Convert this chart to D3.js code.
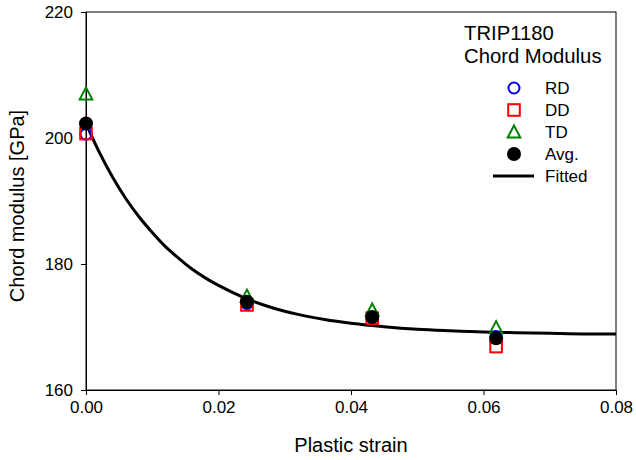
<!DOCTYPE html>
<html><head><meta charset="utf-8">
<script src="https://cdn.jsdelivr.net/npm/d3@7"></script>
<style>body{margin:0;background:#fff}svg{display:block}text{font-family:"Liberation Sans",Arial,sans-serif;fill:#000}</style>
</head><body><svg id="c" width="636" height="460"></svg>
<script>
const strain = [0, 0.0243, 0.0432, 0.0619];
const rd  = [200.6, 173.7, 171.5, 168.5];
const dd  = [200.7, 173.5, 171.4, 166.9];
const td  = [207.0, 174.9, 172.7, 169.9];
const avg = [202.3, 174.0, 171.6, 168.2];
const fitX = [0, 0.002, 0.004, 0.006, 0.008, 0.010, 0.012, 0.014, 0.016, 0.018, 0.020, 0.024, 0.028, 0.032, 0.036, 0.040, 0.045, 0.050, 0.055, 0.060, 0.065, 0.070, 0.075, 0.080];
const fitY = [202.3, 197.75, 193.8, 190.4, 187.5, 185.0, 182.75, 180.9, 179.2, 177.8, 176.6, 174.6, 173.1, 172.0, 171.2, 170.6, 170.05, 169.65, 169.4, 169.2, 169.1, 169.0, 168.9, 168.9];
const xTicks = [0, 0.02, 0.04, 0.06, 0.08];
const yTicks = [160, 180, 200, 220];
const legendTitle = ["TRIP1180", "Chord Modulus"];
const legendItems = ["RD", "DD", "TD", "Avg.", "Fitted"];

const svg = d3.select("#c");
const L = 86, R = 616, T = 12, B = 390;
const x = d3.scaleLinear().domain([0, 0.08]).range([L, R]);
const y = d3.scaleLinear().domain([160, 220]).range([B, T]);

svg.append("rect").attr("x", L).attr("y", T).attr("width", R - L).attr("height", B - T)
  .attr("fill", "none").attr("stroke", "#000").attr("stroke-width", 1);

const xa = svg.append("g").attr("transform", `translate(0,${B})`)
  .call(d3.axisBottom(x).tickValues(xTicks).tickFormat(d3.format(".2f")).tickSize(5).tickPadding(6));
const ya = svg.append("g").attr("transform", `translate(${L},0)`)
  .call(d3.axisLeft(y).tickValues(yTicks).tickSize(5).tickPadding(8));
[xa, ya].forEach(a => {
  a.select(".domain").attr("stroke", "#000");
  a.selectAll("line").attr("stroke", "#000");
  a.selectAll("text").style("font-size", "17px").attr("fill", "#000").style("font-family", '"Liberation Sans",Arial,sans-serif');
});

svg.append("text").attr("x", (L + R) / 2).attr("y", 452).attr("text-anchor", "middle")
  .style("font-size", "20px").text("Plastic strain");
svg.append("text").attr("transform", `translate(24,${(T + B) / 2 + 5}) rotate(-90)`).attr("text-anchor", "middle")
  .style("font-size", "20px").text("Chord modulus [GPa]");

const line = d3.line().x(d => x(d[0])).y(d => y(d[1])).curve(d3.curveMonotoneX);
svg.append("path").datum(fitX.map((v, i) => [v, fitY[i]])).attr("d", line)
  .attr("fill", "none").attr("stroke", "#000").attr("stroke-width", 3);

const triPath = (cx, cy) => `M${cx},${cy - 6.5}L${cx + 6.3},${cy + 5.5}L${cx - 6.3},${cy + 5.5}Z`;

const pg = svg.append("g");
pg.selectAll("circle.rd").data(rd).join("circle").attr("class", "rd")
  .attr("cx", (d, i) => x(strain[i])).attr("cy", d => y(d))
  .attr("r", 5.5).attr("fill", "none").attr("stroke", "#0000ff").attr("stroke-width", 2);
pg.selectAll("rect.dd").data(dd).join("rect").attr("class", "dd")
  .attr("x", (d, i) => x(strain[i]) - 5.8).attr("y", d => y(d) - 5.8)
  .attr("width", 11.6).attr("height", 11.6).attr("fill", "none").attr("stroke", "#ff0000").attr("stroke-width", 2);
pg.selectAll("path.td").data(td).join("path").attr("class", "td")
  .attr("d", (d, i) => triPath(x(strain[i]), y(d)))
  .attr("fill", "none").attr("stroke", "#008000").attr("stroke-width", 2);
pg.selectAll("circle.avg").data(avg).join("circle").attr("class", "avg")
  .attr("cx", (d, i) => x(strain[i])).attr("cy", d => y(d))
  .attr("r", 7).attr("fill", "#000");

const lg = svg.append("g");
lg.append("text").attr("x", 464).attr("y", 40).style("font-size", "20.3px").text(legendTitle[0]);
lg.append("text").attr("x", 464).attr("y", 63).style("font-size", "20.3px").text(legendTitle[1]);
const rowY = [88, 110, 132, 154, 176];
const sx = 514, tx = 545;
lg.append("circle").attr("cx", sx).attr("cy", rowY[0]).attr("r", 5.5).attr("fill", "none").attr("stroke", "#0000ff").attr("stroke-width", 2);
lg.append("rect").attr("x", sx - 5.8).attr("y", rowY[1] - 5.8).attr("width", 11.6).attr("height", 11.6).attr("fill", "none").attr("stroke", "#ff0000").attr("stroke-width", 2);
lg.append("path").attr("d", triPath(sx, rowY[2])).attr("fill", "none").attr("stroke", "#008000").attr("stroke-width", 2);
lg.append("circle").attr("cx", sx).attr("cy", rowY[3]).attr("r", 7).attr("fill", "#000");
lg.append("line").attr("x1", 493).attr("x2", 534).attr("y1", rowY[4]).attr("y2", rowY[4]).attr("stroke", "#000").attr("stroke-width", 3);
legendItems.forEach((t, i) => {
  lg.append("text").attr("x", tx).attr("y", rowY[i] + 6).style("font-size", "17px").text(t);
});
</script></body></html>
